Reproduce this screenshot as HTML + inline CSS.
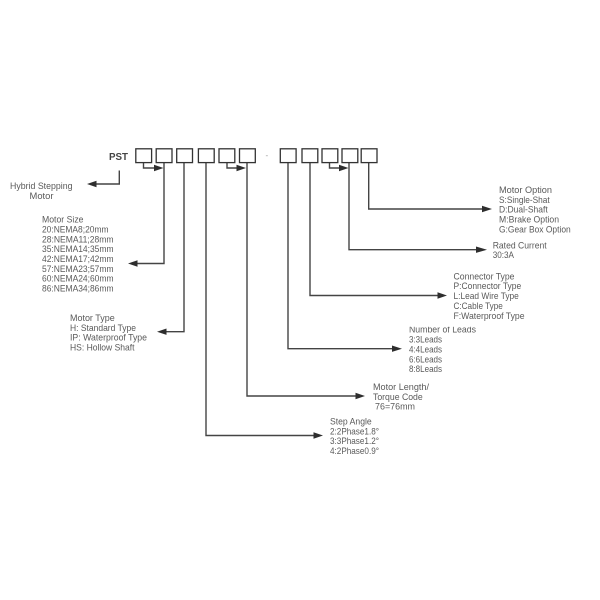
<!DOCTYPE html>
<html>
<head>
<meta charset="utf-8">
<style>
html,body{margin:0;padding:0;background:#fff;width:600px;height:600px;overflow:hidden}
svg{display:block;filter:blur(0.3px)}
text{font-family:"Liberation Sans",sans-serif;font-size:9.200px;fill:#5a5a5a}
.b{fill:#fff;stroke:#333;stroke-width:1.300}
.l{fill:none;stroke:#444;stroke-width:1.400}
.a{fill:#2e2e2e;stroke:none}
</style>
</head>
<body>
<svg width="600" height="600" viewBox="0 0 600 600" xmlns="http://www.w3.org/2000/svg">
<rect width="600" height="600" fill="#fff"/>
<text x="109" y="160" style="font-weight:bold;font-size:10.500px;fill:#444" textLength="19" lengthAdjust="spacingAndGlyphs">PST</text>
<text x="265.500" y="158" style="fill:#999;font-size:8px">-</text>

<!-- connectors -->
<path class="l" d="M143.500 163V168H157"/><path class="a" d="M163.500 168L154 164.800V171.200Z"/>
<path class="l" d="M227 163V168H240"/><path class="a" d="M246 168L236.500 164.800V171.200Z"/>
<path class="l" d="M329.500 163V168H342"/><path class="a" d="M348.500 168L339 164.800V171.200Z"/>
<path class="l" d="M119.300 170.500V184H92"/><path class="a" d="M87 184L96.500 180.800V187.200Z"/>
<path class="l" d="M164 163V263.500H133"/><path class="a" d="M128 263.500L137.500 260.300V266.700Z"/>
<path class="l" d="M184 163V331.700H162"/><path class="a" d="M157 331.700L166.500 328.500V334.900Z"/>
<path class="l" d="M206 163V435.500H318"/><path class="a" d="M323 435.500L313.500 432.300V438.700Z"/>
<path class="l" d="M247 163V396H360"/><path class="a" d="M365 396L355.500 392.800V399.200Z"/>
<path class="l" d="M288 163V348.700H397"/><path class="a" d="M402 348.700L392 345.500V351.900Z"/>
<path class="l" d="M310 163V295.500H442"/><path class="a" d="M447 295.500L437.500 292.300V298.700Z"/>
<path class="l" d="M349 163V249.700H482"/><path class="a" d="M487 249.700L476 246.500V252.900Z"/>
<path class="l" d="M368.700 163V209H487"/><path class="a" d="M492 209L482 205.800V212.200Z"/>

<!-- boxes -->
<rect class="b" x="135.800" y="148.800" width="15.800" height="13.800"/>
<rect class="b" x="156.200" y="148.800" width="15.800" height="13.800"/>
<rect class="b" x="176.700" y="148.800" width="15.800" height="13.800"/>
<rect class="b" x="198.400" y="148.800" width="15.800" height="13.800"/>
<rect class="b" x="219" y="148.800" width="15.800" height="13.800"/>
<rect class="b" x="239.500" y="148.800" width="15.800" height="13.800"/>
<rect class="b" x="280.300" y="148.800" width="15.800" height="13.800"/>
<rect class="b" x="302" y="148.800" width="15.800" height="13.800"/>
<rect class="b" x="322" y="148.800" width="15.800" height="13.800"/>
<rect class="b" x="342" y="148.800" width="15.800" height="13.800"/>
<rect class="b" x="361.200" y="148.800" width="15.800" height="13.800"/>

<!-- labels -->
<text x="10" y="189" textLength="62.500" lengthAdjust="spacingAndGlyphs">Hybrid Stepping</text>
<text x="29.500" y="199" textLength="24" lengthAdjust="spacingAndGlyphs">Motor</text>

<text x="42" y="222.500" textLength="41.500" lengthAdjust="spacingAndGlyphs">Motor Size</text>
<text x="42" y="232.400" textLength="66.500" lengthAdjust="spacingAndGlyphs">20:NEMA8;20mm</text>
<text x="42" y="242.300" textLength="71.500" lengthAdjust="spacingAndGlyphs">28:NEMA11;28mm</text>
<text x="42" y="252.100" textLength="71.500" lengthAdjust="spacingAndGlyphs">35:NEMA14;35mm</text>
<text x="42" y="262" textLength="71.500" lengthAdjust="spacingAndGlyphs">42:NEMA17;42mm</text>
<text x="42" y="271.900" textLength="71.500" lengthAdjust="spacingAndGlyphs">57:NEMA23;57mm</text>
<text x="42" y="281.700" textLength="71.500" lengthAdjust="spacingAndGlyphs">60:NEMA24;60mm</text>
<text x="42" y="291.600" textLength="71.500" lengthAdjust="spacingAndGlyphs">86:NEMA34;86mm</text>

<text x="70" y="321" textLength="44.700" lengthAdjust="spacingAndGlyphs">Motor Type</text>
<text x="70" y="330.800" textLength="66" lengthAdjust="spacingAndGlyphs">H: Standard Type</text>
<text x="70" y="340.700" textLength="77" lengthAdjust="spacingAndGlyphs">IP: Waterproof Type</text>
<text x="70" y="350.600" textLength="64.500" lengthAdjust="spacingAndGlyphs">HS: Hollow Shaft</text>

<text x="499" y="192.900" textLength="53" lengthAdjust="spacingAndGlyphs">Motor Option</text>
<text x="499" y="202.800" textLength="50.700" lengthAdjust="spacingAndGlyphs">S:Single-Shat</text>
<text x="499" y="212.600" textLength="48.700" lengthAdjust="spacingAndGlyphs">D:Dual-Shaft</text>
<text x="499" y="222.500" textLength="60" lengthAdjust="spacingAndGlyphs">M:Brake Option</text>
<text x="499" y="232.400" textLength="71.700" lengthAdjust="spacingAndGlyphs">G:Gear Box Option</text>

<text x="492.700" y="248.300" textLength="54" lengthAdjust="spacingAndGlyphs">Rated Current</text>
<text x="492.700" y="258.200" textLength="21.300" lengthAdjust="spacingAndGlyphs">30:3A</text>

<text x="453.500" y="279.300" textLength="61" lengthAdjust="spacingAndGlyphs">Connector Type</text>
<text x="453.500" y="289.200" textLength="67.700" lengthAdjust="spacingAndGlyphs">P:Connector Type</text>
<text x="453.500" y="299" textLength="65.300" lengthAdjust="spacingAndGlyphs">L:Lead Wire Type</text>
<text x="453.500" y="308.900" textLength="49.300" lengthAdjust="spacingAndGlyphs">C:Cable Type</text>
<text x="453.500" y="318.800" textLength="71" lengthAdjust="spacingAndGlyphs">F:Waterproof Type</text>

<text x="409" y="332.700" textLength="67" lengthAdjust="spacingAndGlyphs">Number of Leads</text>
<rect x="405" y="321" width="75" height="5.800" fill="#fff"/>
<text x="409" y="342.600" textLength="33" lengthAdjust="spacingAndGlyphs">3:3Leads</text>
<text x="409" y="352.500" textLength="33" lengthAdjust="spacingAndGlyphs">4:4Leads</text>
<text x="409" y="362.300" textLength="33" lengthAdjust="spacingAndGlyphs">6:6Leads</text>
<text x="409" y="372.200" textLength="33" lengthAdjust="spacingAndGlyphs">8:8Leads</text>

<text x="373" y="390" textLength="56" lengthAdjust="spacingAndGlyphs">Motor Length/</text>
<text x="373" y="399.800" textLength="49.700" lengthAdjust="spacingAndGlyphs">Torque Code</text>
<text x="375" y="409.700" textLength="40" lengthAdjust="spacingAndGlyphs">76=76mm</text>

<text x="330" y="424.500" textLength="41.700" lengthAdjust="spacingAndGlyphs">Step Angle</text>
<text x="330" y="434.400" textLength="49" lengthAdjust="spacingAndGlyphs">2:2Phase1.8°</text>
<text x="330" y="444.200" textLength="49" lengthAdjust="spacingAndGlyphs">3:3Phase1.2°</text>
<text x="330" y="454.100" textLength="49" lengthAdjust="spacingAndGlyphs">4:2Phase0.9°</text>
</svg>
</body>
</html>
